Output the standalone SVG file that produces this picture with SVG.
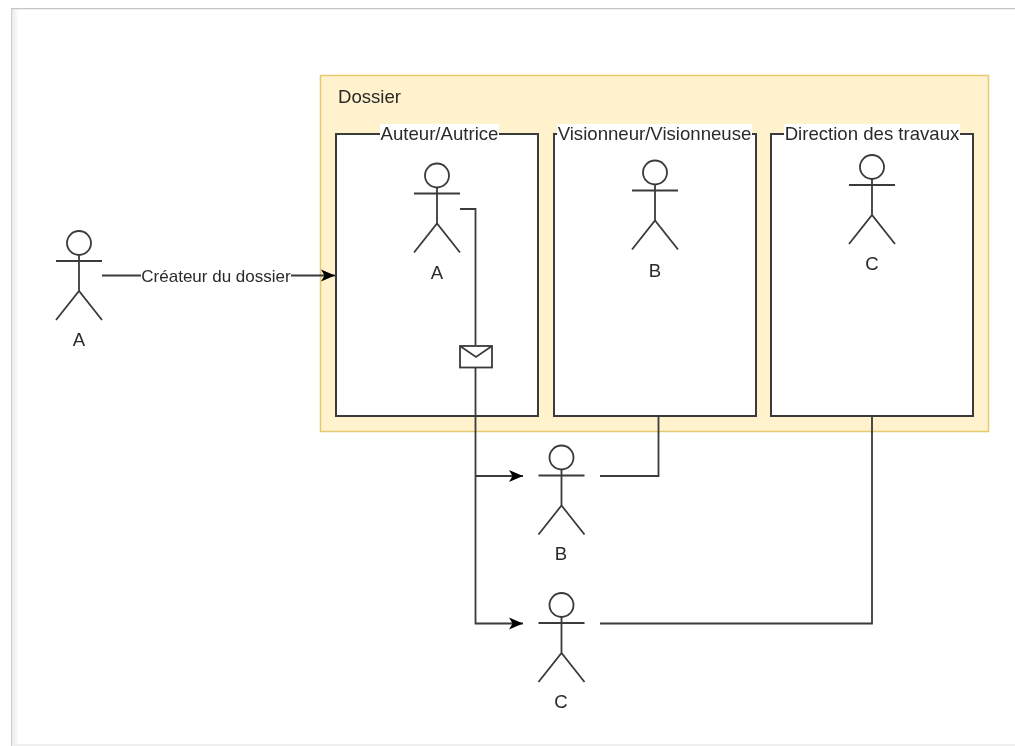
<svg xmlns="http://www.w3.org/2000/svg" width="1015" height="746" viewBox="0 0 1015 746">
<style>
text{font-family:"Liberation Sans",Arial,sans-serif;font-size:18.6px;fill:#2a2a2a}
.edge{font-size:17px}
.m{text-anchor:middle}
.box{fill:#fff;stroke:#3a3a3a;stroke-width:2}
.line{fill:none;stroke:#3a3a3a;stroke-width:1.8}
.bg{fill:#fff}
</style>
<defs>
<filter id="soft" x="0" y="0" width="100%" height="100%"><feGaussianBlur stdDeviation="0.45"/></filter>
<marker id="arrow" markerUnits="userSpaceOnUse" markerWidth="15" markerHeight="13" refX="14" refY="6.500" orient="auto"><path d="M0 0.500L14 6.500L0 12.500L3.500 6.500Z" fill="#000"/></marker>
<g id="actor" class="line"><circle cx="0" cy="0" r="12"/><path d="M0 12V48M-23 18H23M-23 77L0 48L23 77"/></g>
<linearGradient id="shade" x1="0" x2="1" y1="0" y2="0"><stop offset="0" stop-color="#e8e8e8"/><stop offset="1" stop-color="#fff"/></linearGradient>
</defs>
<rect width="1015" height="746" fill="#fff"/>
<g filter="url(#soft)">
<g id="page">
<rect x="11" y="9" width="8" height="735" fill="url(#shade)"/>
<rect x="11" y="744" width="1004" height="2" fill="#f0f0f0"/>
<path d="M11 746V8.500H1015" fill="none" stroke="#c4c4c4" stroke-width="1.500"/>
</g>
<g id="dossier">
<rect x="320.500" y="75.500" width="668" height="356" fill="#fff2cc" stroke="#e6c96f" stroke-width="1.500"/>
<text x="338" y="103">Dossier</text>
</g>
<g id="auteur">
<rect class="box" x="336" y="134" width="202" height="282"/>
<rect class="bg" x="380" y="124" width="119" height="18"/>
<text class="m" x="439.500" y="140">Auteur/Autrice</text>
</g>
<g id="visionneur">
<rect class="box" x="554" y="134" width="202" height="282"/>
<rect class="bg" x="557" y="124" width="195" height="18"/>
<text class="m" x="654.500" y="140">Visionneur/Visionneuse</text>
</g>
<g id="direction">
<rect class="box" x="771" y="134" width="202" height="282"/>
<rect class="bg" x="784" y="124" width="176" height="18"/>
<text class="m" x="872" y="140">Direction des travaux</text>
</g>
<g id="connectors">
<path class="line" d="M102 275.500H141"/>
<path class="line" d="M291 275.500H335" marker-end="url(#arrow)"/>
<path class="line" d="M460 209H475.500V345"/>
<path class="line" d="M475.500 368V623.500H523" marker-end="url(#arrow)"/>
<path class="line" d="M475.500 476H523" marker-end="url(#arrow)"/>
<path class="line" d="M600 476H658.500V416"/>
<path class="line" d="M600 623.500H872V416"/>
</g>
<text class="m edge" x="216" y="282">Créateur du dossier</text>
<g id="envelope">
<rect x="460" y="346" width="32" height="21.500" fill="#fff" stroke="#3a3a3a" stroke-width="1.800"/>
<path class="line" d="M460 346L476 357L492 346"/>
</g>
<g id="actor-a"><use href="#actor" x="79" y="243"/><text class="m" x="79" y="346">A</text></g>
<g id="actor-a2"><use href="#actor" x="437" y="175.500"/><text class="m" x="437" y="279">A</text></g>
<g id="actor-b2"><use href="#actor" x="655" y="172.500"/><text class="m" x="655" y="276.500">B</text></g>
<g id="actor-c2"><use href="#actor" x="872" y="167"/><text class="m" x="872" y="270">C</text></g>
<g id="actor-b"><use href="#actor" x="561.500" y="457.500"/><text class="m" x="561" y="560">B</text></g>
<g id="actor-c"><use href="#actor" x="561.500" y="605"/><text class="m" x="561" y="708">C</text></g>
</g>
</svg>
